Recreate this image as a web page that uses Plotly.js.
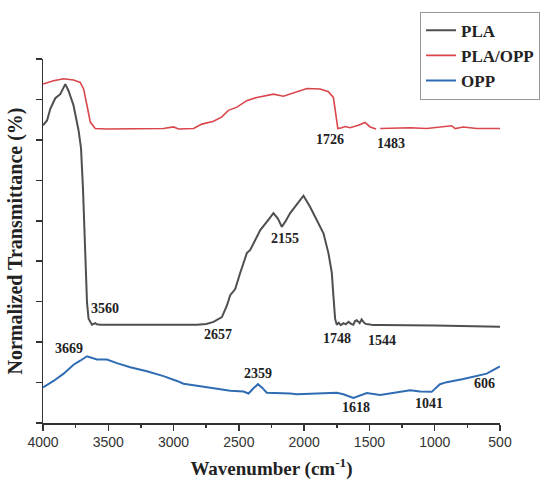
<!DOCTYPE html>
<html>
<head>
<meta charset="utf-8">
<script src="https://cdn.plot.ly/plotly-3.0.1.min.js"></script>
<style>html,body{margin:0;padding:0;background:#fff;}#chart{width:555px;height:487px;}</style>
</head>
<body>
<div id="chart"></div>
<script>
// PLA
const plaWn = [4000,3969,3944,3906,3868,3842,3829,3804,3766,3728,3709,3694,3684,3676,3663,3651,3625,3600,3587,3561,3200,2821,2750,2694,2630,2592,2566,2528,2490,2439,2413,2336,2280,2235,2200,2171,2140,2107,2069,2005,1954,1903,1852,1814,1788,1776,1763,1750,1735,1720,1699,1680,1661,1640,1623,1610,1597,1575,1560,1546,1530,1508,1490,1470,1418,1200,1000,800,600,500];
const plaT  = [7.36,7.48,7.77,8.03,8.13,8.29,8.38,8.21,7.85,7.24,6.80,5.82,5.01,4.20,2.98,2.58,2.43,2.47,2.44,2.43,2.43,2.43,2.45,2.50,2.62,2.90,3.16,3.31,3.71,4.20,4.28,4.77,5.00,5.19,5.05,4.85,5.00,5.19,5.35,5.62,5.34,5.01,4.69,4.20,3.71,3.15,2.58,2.43,2.48,2.42,2.47,2.44,2.50,2.45,2.43,2.52,2.54,2.47,2.56,2.50,2.45,2.44,2.43,2.42,2.42,2.42,2.41,2.40,2.39,2.38];

// PLA/OPP
const plaOppWn = [4000,3919,3842,3766,3715,3689,3663,3638,3600,3510,3077,3000,2962,2847,2783,2694,2630,2580,2515,2439,2362,2235,2159,2056,1979,1878,1814,1776,1758,1742,1712,1686,1648,1585,1533,1495,1449,1434,1418,1188,1061,934,870,844,781,678,500];
const plaOppT  = [8.38,8.46,8.51,8.48,8.42,8.26,7.85,7.44,7.28,7.27,7.28,7.32,7.27,7.28,7.39,7.46,7.57,7.73,7.81,7.97,8.05,8.13,8.08,8.19,8.27,8.26,8.19,8.05,7.61,7.28,7.30,7.33,7.30,7.36,7.43,7.32,7.27,null,7.28,7.30,7.28,7.32,7.35,7.28,7.32,7.28,7.28];

// OPP
const oppWn = [4000,3919,3842,3766,3715,3663,3587,3510,3434,3332,3204,3077,2974,2924,2821,2694,2566,2465,2426,2388,2354,2324,2286,2107,2056,1750,1699,1623,1520,1418,1291,1188,1112,1023,960,908,781,678,602,500];
const oppT  = [0.88,1.04,1.22,1.44,1.54,1.65,1.57,1.57,1.48,1.38,1.28,1.16,1.04,0.97,0.92,0.86,0.80,0.78,0.73,0.86,0.96,0.88,0.75,0.73,0.71,0.75,0.71,0.62,0.74,0.69,0.75,0.81,0.78,0.77,0.96,1.01,1.09,1.16,1.22,1.40];

const seriesNames = ['PLA','PLA/OPP','OPP'];
const xTickVals = [4000,3500,3000,2500,2000,1500,1000,500];
const xTickText = ['4000','3500','3000','2500','2000','1500','1000','500'];

const serif = 'Liberation Serif, Times New Roman, serif';
const traces = [
  {x: plaWn, y: plaT, name: seriesNames[0], mode: 'lines', line: {color: '#4f4f4f', width: 2}},
  {x: plaOppWn, y: plaOppT, name: seriesNames[1], mode: 'lines', connectgaps: false, line: {color: '#d9464c', width: 1.6}},
  {x: oppWn, y: oppT, name: seriesNames[2], mode: 'lines', line: {color: '#2f6cb3', width: 2}}
];

function lab(text, x, y) {
  return {text: text, x: x, y: y, xref: 'x', yref: 'y', showarrow: false,
          font: {family: serif, size: 14, color: '#222', weight: 'bold'}};
}

const layout = {
  width: 555, height: 487,
  margin: {l: 43, r: 55, t: 53, b: 64},
  paper_bgcolor: '#fff', plot_bgcolor: '#fff',
  showlegend: true,
  legend: {x: 0.825, y: 1.13, xanchor: 'left', yanchor: 'top',
           bordercolor: '#999', borderwidth: 1, bgcolor: '#fff',
           font: {family: serif, size: 17, color: '#222', weight: 'bold'},
           tracegroupgap: 0},
  xaxis: {range: [4000, 500], tickvals: xTickVals, ticktext: xTickText,
          ticks: 'outside', ticklen: 6, tickwidth: 1.5, tickcolor: '#333',
          minor: {dtick: 250, ticks: 'outside', ticklen: 3, tickwidth: 1.5, tickcolor: '#333'},
          showline: true, linecolor: '#333', linewidth: 1.5,
          showgrid: false, zeroline: false,
          tickfont: {family: 'Liberation Sans, Arial, sans-serif', size: 14, color: '#333'},
          title: {text: 'Wavenumber (cm<sup>-1</sup>)', standoff: 12,
                  font: {family: serif, size: 19, color: '#222', weight: 'bold'}}},
  yaxis: {range: [0, 9], dtick: 1, tick0: 0, showticklabels: false,
          ticks: 'outside', ticklen: 6, tickwidth: 1.5, tickcolor: '#333',
          showline: true, linecolor: '#333', linewidth: 1.5,
          showgrid: false, zeroline: false,
          title: {text: 'Normalized Transmittance (%)', standoff: 7,
                  font: {family: serif, size: 20, color: '#222', weight: 'bold'}}},
  annotations: [
    lab('1726', 1801, 7.02), lab('1483', 1337, 6.92),
    lab('3560', 3523, 2.84), lab('2155', 2146, 4.57), lab('2657', 2656, 2.19),
    lab('1748', 1750, 2.08), lab('1544', 1405, 2.05),
    lab('3669', 3804, 1.85), lab('2359', 2350, 1.22), lab('1618', 1602, 0.39),
    lab('1041', 1041, 0.49), lab('606', 615, 0.97)
  ]
};

Plotly.newPlot('chart', traces, layout, {staticPlot: true, displayModeBar: false});
</script>
</body>
</html>
